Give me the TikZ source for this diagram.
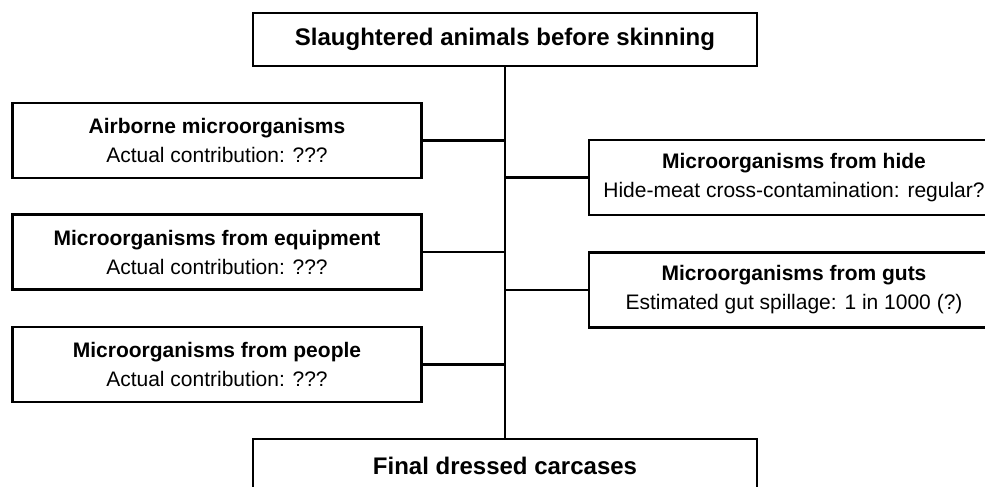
\documentclass[tikz,border=0pt]{standalone}
\usepackage{fontspec}
\setmainfont{Liberation Sans}
\usetikzlibrary{positioning,calc}

\begin{document}
\begin{tikzpicture}[
  x=1pt, y=-1pt,
  stagebox/.style={
    draw,
    line width=2.7pt,
    fill=white,
    minimum width=504pt,
    minimum height=53pt,
    align=center,
    font=\fontsize{24}{29}\selectfont\bfseries
  },
  sourcebox/.style={
    draw,
    line width=2.7pt,
    fill=white,
    minimum width=409pt,
    minimum height=75pt,
    align=center,
    font=\fontsize{21}{29}\selectfont
  },
  link/.style={line width=2.7pt}
]
  \fill[white] (0,0) rectangle (985,487);
  \useasboundingbox (0,0) rectangle (985,487);
  \clip (0,0) rectangle (985,487);
  \node[stagebox] (raw) at (505,39.5) {Slaughtered animals before skinning};
  \node[stagebox] (final) at (505,465.5) {Final dressed carcases};
  \node[sourcebox] (air) at (217,140.5) {\textbf{Airborne microorganisms}\\Actual contribution: ???};
  \node[sourcebox] (equip) at (217,252) {\textbf{Microorganisms from equipment}\\Actual contribution: ???};
  \node[sourcebox] (people) at (217,364.5) {\textbf{Microorganisms from people}\\Actual contribution: ???};
  \node[sourcebox,minimum width=410pt] (hide) at (794,177.5) {\textbf{Microorganisms from hide}\\Hide-meat cross-contamination: regular?};
  \node[sourcebox,minimum width=410pt] (guts) at (794,290) {\textbf{Microorganisms from guts}\\Estimated gut spillage: 1 in 1000 (?)};
  \draw[link] (raw.south) -- (final.north);
  \draw[link] (air.east) -- (air.east -| raw.south);
  \draw[link] (equip.east) -- (equip.east -| raw.south);
  \draw[link] (people.east) -- (people.east -| raw.south);
  \draw[link] (hide.west) -- (hide.west -| raw.south);
  \draw[link] (guts.west) -- (guts.west -| raw.south);
\end{tikzpicture}
\end{document}
